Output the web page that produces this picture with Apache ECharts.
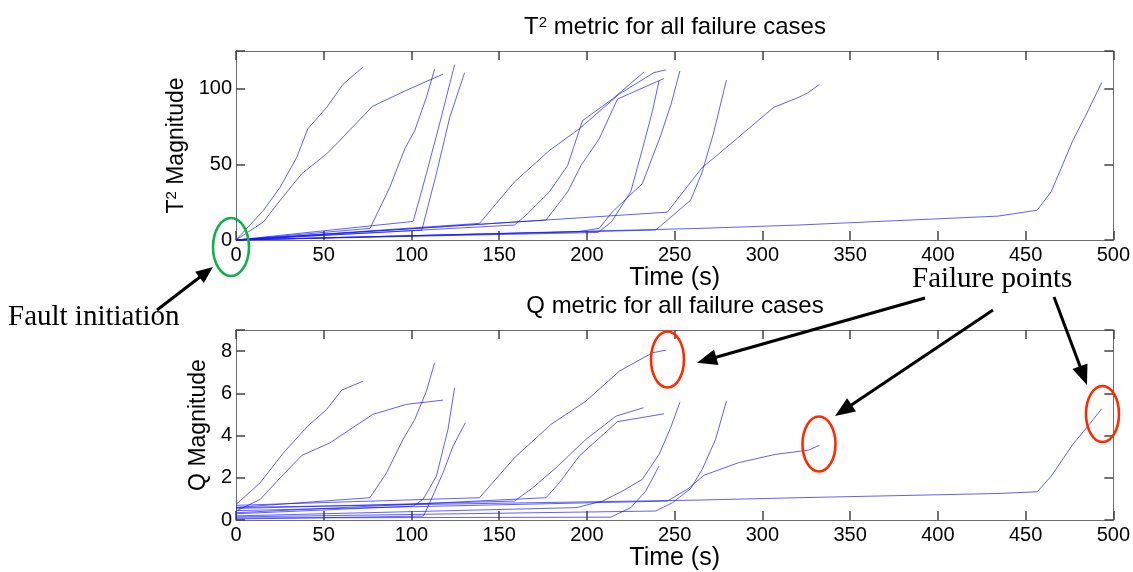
<!DOCTYPE html>
<html>
<head>
<meta charset="utf-8">
<script src="https://cdn.jsdelivr.net/npm/echarts@6/dist/echarts.min.js"></script>
<style>html,body{margin:0;padding:0;background:#fff}#c{width:1133px;height:572px}</style>
</head>
<body>
<div id="c"></div>
<script>
// ---- Data: [time (s), value] per failure case ----
// T^2 metric
const t2_f072 = [[0,0],[8,10],[15.7,19.7],[25.2,35],[34.7,54.8],[40.9,73.5],[51.7,87.7],[61,103],[72.5,114.5]];
const t2_f113 = [[0,0],[76.4,7.7],[87.7,35],[96.2,60.3],[101.9,72.4],[108.5,94.3],[113.2,113]];
const t2_f118 = [[0,0],[15.7,12],[25.2,26.3],[37.5,43.9],[51.7,57],[59.3,66],[77.8,88.4],[97.1,99],[118,109.7]];
const t2_f125 = [[0,0],[101,12.3],[108.5,43.9],[116,76.7],[124.6,116]];
const t2_f130 = [[0,0],[105.9,6.5],[114.2,43.9],[121.8,81],[130.3,110.7]];
const t2_f233 = [[0,0],[158.7,9.9],[165.3,16.4],[178.6,31.8],[189,49.3],[197.5,79],[214.5,93.2],[232.6,111.2]];
const t2_f241 = [[0,0],[206.3,5],[214,12],[225,32],[231.6,60],[237.3,85],[241.1,105.3]];
const t2_f244 = [[0,0],[176.7,13.2],[189,31.8],[196.6,49.3],[207,66.9],[217.4,93.2],[243.9,106.8]];
const t2_f245 = [[0,0],[138.8,11],[158.7,38.4],[178.6,59.2],[195.6,73.5],[218.4,96.5],[238.2,110.7],[245,112.5]];
const t2_f253 = [[0,0],[194.9,5.5],[207,7.7],[214.5,18.6],[231.6,37.3],[242,69],[248,90],[253,111.8]];
const t2_f280 = [[0,0],[239.2,6.6],[259.1,26.3],[265.7,45],[272,70],[279.5,105.7]];
const t2_f332 = [[0,0],[245.8,18.4],[265.7,48],[275.2,57],[306.4,87.7],[320.6,94.3],[326.3,97.6],[332.6,103]];
const t2_f495 = [[0,0],[265,7.7],[320.6,9.9],[434.3,15.8],[456.6,19.7],[464.6,32],[470.2,47.2],[476.9,65.8],[485,84],[493.4,104.2]];
// Q metric
const q_f072 = [[0,0.74],[13.8,1.77],[27.1,3.19],[40.9,4.45],[51.7,5.24],[60.2,6.15],[72.5,6.58]];
const q_f113 = [[0,0.6],[76.3,1.06],[85.8,2.24],[95.2,3.82],[101.9,4.77],[108.5,6.1],[113.2,7.45]];
const q_f118 = [[0,0.43],[13.8,0.98],[25.2,2.0],[37.5,3.06],[53.6,3.66],[59.3,3.98],[77.8,5.0],[97.1,5.48],[118,5.68]];
const q_f125 = [[0,0.3],[101,0.66],[106.6,0.98],[114.2,2.08],[120.8,4.29],[124.6,6.27]];
const q_f130 = [[0,0.05],[106.8,0.19],[110.4,0.82],[118,2.24],[123.7,3.5],[130.7,4.61]];
const q_f233 = [[0,0.55],[158.7,0.9],[169.1,1.53],[182.4,2.48],[199.4,3.82],[216.5,4.92],[232.2,5.32]];
const q_f241 = [[0,0.1],[213.6,0.14],[225,0.59],[233.5,1.37],[241.1,2.56]];
const q_f244 = [[0,0.35],[176.7,1.06],[184.3,1.77],[195.6,3.03],[217.4,4.66],[243.9,5.03]];
const q_f245 = [[0,0.7],[138.8,1.06],[158.7,2.95],[179.5,4.53],[199.4,5.63],[218.4,7.05],[237.3,7.92],[245.2,8.05]];
const q_f253 = [[0,0.2],[193.8,0.59],[208.9,0.9],[220.2,1.37],[231.6,1.93],[241.1,3.11],[247.7,4.37],[253,5.58]];
const q_f280 = [[0,0.15],[239.2,0.43],[248.7,0.82],[259.1,1.49],[265.7,2.4],[273.3,3.82],[279.5,5.63]];
const q_f332 = [[0,0.45],[245.8,0.9],[258,1.5],[266.6,2.12],[286.5,2.72],[307.3,3.11],[326.2,3.31],[332.6,3.54]];
const q_f495 = [[0,0.6],[265,0.95],[320.6,1.06],[434.3,1.26],[456.6,1.34],[464.6,2.08],[476.9,3.58],[485,4.4],[493.4,5.27]];

const t2Cases = [t2_f072,t2_f113,t2_f118,t2_f125,t2_f130,t2_f233,t2_f241,t2_f244,t2_f245,t2_f253,t2_f280,t2_f332,t2_f495];
const qCases  = [q_f072,q_f113,q_f118,q_f125,q_f130,q_f233,q_f241,q_f244,q_f245,q_f253,q_f280,q_f332,q_f495];

const xTicks = [0,50,100,150,200,250,300,350,400,450,500];
const t2Ticks = [0,50,100];
const qTicks = [0,2,4,6,8];

// ---- Styling ----
const SANS = 'Liberation Sans, Arial, sans-serif';
const SERIF = 'Liberation Serif, Times New Roman, serif';
const AX = '#6e6e6e';
const LINE = 'rgba(20,20,255,0.68)';

function tick() { return {show:true, inside:true, length:9, lineStyle:{color:'#444444', width:1.5}}; }

function xAxes(grid) {
  const mk = () => ({
    type:'value', gridIndex:grid, min:0, max:500, interval:50,
    axisLine:{show:true, onZero:false, lineStyle:{color:AX, width:1}},
    axisTick:tick(),
    splitLine:{show:false}
  });
  const b = mk();
  b.axisLabel = {show:true, color:'#000', fontFamily:SANS, fontSize:20, margin:5,
    formatter:v => xTicks.includes(v) ? String(v) : ''};
  b.name = 'Time (s)'; b.nameLocation = 'middle'; b.nameGap = 21;
  b.nameTextStyle = {color:'#000', fontFamily:SANS, fontSize:25};
  const t = mk();
  t.position = 'top';
  t.axisLabel = {show:false};
  return [b, t];
}
function yAxes(grid, max, interval, ticks, name, rich, gap) {
  const mk = () => ({
    type:'value', gridIndex:grid, min:0, max:max, interval:interval,
    axisLine:{show:true, onZero:false, lineStyle:{color:AX, width:1}},
    axisTick:tick(),
    splitLine:{show:false}
  });
  const l = mk();
  l.axisLabel = {show:true, color:'#000', fontFamily:SANS, fontSize:20, margin:4,
    formatter:v => ticks.includes(v) ? String(v) : ''};
  l.name = name; l.nameLocation = 'middle'; l.nameGap = gap; l.nameRotate = 90;
  l.nameTextStyle = {color:'#000', fontFamily:SANS, fontSize:23, rich:rich};
  const r = mk();
  r.position = 'right';
  r.axisLabel = {show:false};
  return [l, r];
}

const nameRich = {
  a:{fontFamily:SANS, fontSize:23, color:'#000'},
  s:{fontFamily:SANS, fontSize:15, color:'#000', verticalAlign:'top'}
};

const series = [];
t2Cases.forEach(d => series.push({type:'line', xAxisIndex:0, yAxisIndex:0, data:d, showSymbol:false,
  lineStyle:{color:LINE, width:1}}));
qCases.forEach(d => series.push({type:'line', xAxisIndex:2, yAxisIndex:2, data:d, showSymbol:false,
  lineStyle:{color:LINE, width:1}}));

function arrow(x1,y1,x2,y2,hl,hw){
  const dx=x2-x1, dy=y2-y1, L=Math.hypot(dx,dy), ux=dx/L, uy=dy/L;
  const bx=x2-ux*hl, by=y2-uy*hl;
  return [
    {type:'line', shape:{x1:x1,y1:y1,x2:bx+ux*3,y2:by+uy*3}, style:{stroke:'#000', lineWidth:3}, z:10},
    {type:'polygon', shape:{points:[[x2,y2],[bx-uy*hw,by+ux*hw],[bx+uy*hw,by-ux*hw]]}, style:{fill:'#000'}, z:10}
  ];
}
function ell(cx,cy,rx,ry,color){
  return {type:'ellipse', shape:{cx:cx,cy:cy,rx:rx,ry:ry}, style:{fill:'none', stroke:color, lineWidth:2.6}, z:10};
}

const titleRich = {
  a:{fontFamily:SANS, fontSize:24, color:'#000'},
  s:{fontFamily:SANS, fontSize:15, color:'#000', verticalAlign:'top'}
};

const graphic = [
  {type:'text', x:675, y:27, z:10, style:{text:'{a|T}{s|2}{a| metric for all failure cases}', rich:titleRich, align:'center', verticalAlign:'middle'}},
  {type:'text', x:675, y:306, z:10, style:{text:'Q metric for all failure cases', fontFamily:SANS, fontSize:24, fill:'#000', align:'center', verticalAlign:'middle'}},
  {type:'text', x:8, y:317, z:10, style:{text:'Fault initiation', fontFamily:SERIF, fontSize:29, fill:'#000', align:'left', verticalAlign:'middle'}},
  {type:'text', x:912, y:279, z:10, style:{text:'Failure points', fontFamily:SERIF, fontSize:29, fill:'#000', align:'left', verticalAlign:'middle'}},
  ell(231,247,18,29,'#12b04c'),
  ell(667.5,359.5,16.5,28,'#ff2a00'),
  ell(819,444,16.5,27.5,'#ff2a00'),
  ell(1102.5,414,16.5,28,'#ff2a00'),
  ...arrow(157,310,213,267,17,7),
  ...arrow(925,298,697,362.7,20,8),
  ...arrow(993,310,835,416,20,8),
  ...arrow(1054,297,1087,385,20,8)
];

const chart = echarts.init(document.getElementById('c'), null, {renderer:'canvas'});
chart.setOption({
  animation:false,
  backgroundColor:'#fff',
  grid:[
    {left:236, right:18, top:51, height:189},
    {left:236, right:18, top:330, height:191}
  ],
  xAxis:[...xAxes(0), ...xAxes(1)],
  yAxis:[
    ...yAxes(0, 125, 50, t2Ticks, '{a|T}{s|2}{a| Magnitude}', nameRich, 32),
    ...yAxes(1, 9, 2, qTicks, 'Q Magnitude', nameRich, 15)
  ],
  series:series,
  graphic:graphic
});
</script>
</body>
</html>
